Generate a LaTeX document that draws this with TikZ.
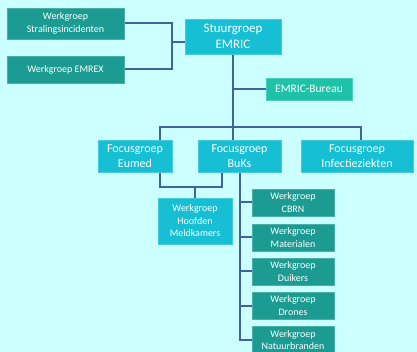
\documentclass[tikz,border=0pt]{standalone}
\usepackage{fontspec}
\setmainfont{Carlito}
\usepackage{tikz}
\usetikzlibrary{backgrounds}
\definecolor{bgcyan}{HTML}{CCFFFF}
\definecolor{wgteal}{HTML}{1B9B91}
\definecolor{fgcyan}{HTML}{16BFD3}
\definecolor{burgreen}{HTML}{1DC2A8}
\definecolor{linkblue}{HTML}{41629A}
\tikzstyle{org}=[x=1pt, y=-1pt, line width=2pt, draw=linkblue, font=\fontsize{10}{12.5}\selectfont]
\tikzstyle{box}=[rectangle, inner sep=2pt, align=center, text=white, line width=0.8pt]
\tikzstyle{wg}=[box, fill=wgteal, draw=wgteal!80!white]
\tikzstyle{fg}=[box, fill=fgcyan, draw=fgcyan!80!white, font=\fontsize{12}{14.5}\selectfont]
\tikzstyle{sg}=[box, fill=fgcyan, draw=fgcyan!80!white, font=\fontsize{13}{16}\selectfont]
\tikzstyle{bur}=[box, fill=burgreen, draw=burgreen!80!white, font=\fontsize{11.5}{14}\selectfont]
\tikzstyle{link}=[draw=linkblue, line width=2pt]
\begin{document}
\begin{tikzpicture}[org]
	\useasboundingbox (0,0) rectangle (417,352);
	%%
	\draw (65.5,23.5) node[wg, minimum width=117pt, minimum height=31pt] (stral) {Werkgroep\\Stralingsincidenten};
	\draw (65.5,69.5) node[wg, minimum width=117pt, minimum height=27pt] (emrex) {Werkgroep EMREX};
	\draw (233,36.5) node[sg, minimum width=96pt, minimum height=35pt] (stuur) {Stuurgroep\\EMRIC};
	\draw (309,89) node[bur, minimum width=86pt, minimum height=22pt] (bureau) {EMRIC-Bureau};
	%%
	\draw (135,156) node[fg, minimum width=74pt, minimum height=32pt] (eumed) {Focusgroep\\Eumed};
	\draw (239.5,156) node[fg, minimum width=83pt, minimum height=32pt] (buks) {Focusgroep\\BuKs};
	\draw (357,156) node[fg, minimum width=112pt, minimum height=32pt] (infect) {Focusgroep\\Infectieziekten};
	\draw (195,221) node[wg, fill=fgcyan, draw=fgcyan!80!white, minimum width=74pt, minimum height=46pt] (hoofden) {Werkgroep\\Hoofden\\Meldkamers};
	%%
	\draw (293,202.5) node[wg, minimum width=82pt, minimum height=27pt] (cbrn) {Werkgroep\\CBRN};
	\draw (293,237.5) node[wg, minimum width=82pt, minimum height=27pt] (mat) {Werkgroep\\Materialen};
	\draw (293,271.5) node[wg, minimum width=82pt, minimum height=27pt] (duik) {Werkgroep\\Duikers};
	\draw (293,305.5) node[wg, minimum width=82pt, minimum height=27pt] (drones) {Werkgroep\\Drones};
	\draw (293,340) node[wg, minimum width=82pt, minimum height=28pt] (natuur) {Werkgroep\\Natuurbranden};
	%%%%%%
	\coordinate (j1) at (172,42);
	\coordinate (bar) at (233,127);
	\coordinate (e1) at (160,187);
	\coordinate (b1) at (222,187);
	\coordinate (i1) at (361,127);
	%%
	\begin{scope}[on background layer]
	\fill[bgcyan] (0,0) rectangle (417,352);
	\draw[link] (stral.east) -| (j1) |- (emrex.east);
	\draw[link] (j1) -- (j1 -| stuur.west);
	\draw[link] (stuur.south) -- (stuur.south |- buks.north);
	\draw[link] (stuur.south |- bureau.west) -- (bureau.west);
	\draw[link] (e1 |- eumed.north) -- (e1 |- bar) -- (i1) -- (i1 |- infect.north);
	%%
	\draw[link] (e1 |- eumed.south) -- (e1) -- (b1) -- (b1 |- buks.south);
	\draw[link] (hoofden.north) -- (hoofden.north |- e1);
	%%
	\draw[link] (buks.south) |- (natuur.west);
	\draw[link] (buks.south |- cbrn.west) -- (cbrn.west);
	\draw[link] (buks.south |- mat.west) -- (mat.west);
	\draw[link] (buks.south |- duik.west) -- (duik.west);
	\draw[link] (buks.south |- drones.west) -- (drones.west);
	\end{scope}
\end{tikzpicture}
\end{document}
